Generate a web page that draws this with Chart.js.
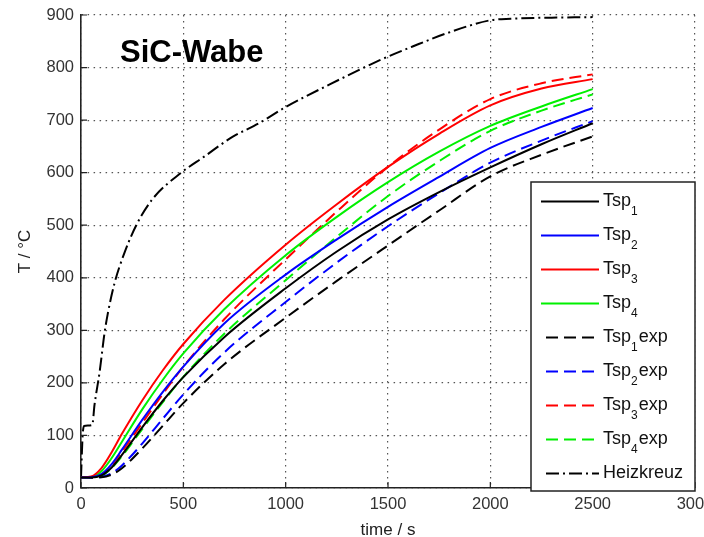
<!DOCTYPE html>
<html>
<head>
<meta charset="utf-8">
<script src="https://cdn.jsdelivr.net/npm/chart.js@4"></script>
<style>
  html, body { margin: 0; padding: 0; background: #fff; }
  #wrap { width: 704px; height: 537px; position: relative; }
</style>
</head>
<body>
<div id="wrap"><canvas id="chart"></canvas></div>
<script>
// time points of the simulated / measured curves (s)
const timeSteps = [0, 50, 100, 150, 200, 300, 400, 500, 700, 1000, 1250, 1500, 1750, 2000, 2250, 2500];

// simulation
const tsp1 = [20, 20, 24, 39, 63, 116, 166, 211, 287, 380, 450, 511, 563, 610, 654, 694];
const tsp2 = [20, 20.5, 26.5, 45.5, 73, 130, 183, 231, 313, 406, 473, 535, 592, 647, 687, 723];
const tsp3 = [20, 22, 38, 68, 103, 167, 224, 274, 358, 463, 540, 611, 674, 728, 760, 778];
const tsp4 = [20, 21, 32, 57, 88, 150, 206, 256, 340, 443, 516, 582, 640, 689, 726, 759];

// experiment
const tsp1exp = [20, 20, 20.5, 25.5, 37.5, 75.5, 118.5, 161.5, 235.5, 324, 394, 461.5, 528, 593, 634, 669];
const tsp2exp = [20, 20, 21, 28, 43, 85, 132, 178, 258, 354, 429, 498, 561, 619, 661, 698];
const tsp3exp = [20, 20, 26, 44, 69, 124, 179, 231, 321, 435, 526, 611, 682, 740, 770, 787];
const tsp4exp = [20, 20, 23, 38, 60.5, 112.5, 163.5, 211.5, 293.5, 395.5, 478, 555.5, 622, 679.5, 718, 749];

// heating cross
const heizTime = [0, 8, 15, 55, 66, 91, 115, 130, 164, 210, 270, 350, 490, 600, 740, 870, 1000, 1200, 1460, 1620, 1785, 2000, 2100, 2300, 2500];
const heizTemp = [20, 100, 118, 120, 158, 221, 295, 330, 390, 445, 500, 550, 600, 630, 668, 694, 725, 765, 814, 840, 865, 890, 893, 895, 896];

const seriesNames = ['Tsp1', 'Tsp2', 'Tsp3', 'Tsp4', 'Tsp1exp', 'Tsp2exp', 'Tsp3exp', 'Tsp4exp', 'Heizkreuz'];
const xTicks = [0, 500, 1000, 1500, 2000, 2500, 3000];
const yTicks = [0, 100, 200, 300, 400, 500, 600, 700, 800, 900];

const toPoints = (xs, ys) => xs.map((x, i) => ({ x: x, y: ys[i] }));

const dashed = [12, 6];
const dashDot = [13, 4, 2, 4];
const green = '#00f000';

function makeSet(label, xs, ys, color, dash) {
    return {
        label: label,
        data: toPoints(xs, ys),
        borderColor: color,
        borderWidth: 2,
        borderDash: dash,
        pointRadius: 0,
        cubicInterpolationMode: 'monotone',
        fill: false
    };
}

const datasets = [
    makeSet(seriesNames[0], timeSteps, tsp1, '#000000', []),
    makeSet(seriesNames[1], timeSteps, tsp2, '#0000ff', []),
    makeSet(seriesNames[2], timeSteps, tsp3, '#ff0000', []),
    makeSet(seriesNames[3], timeSteps, tsp4, green, []),
    makeSet(seriesNames[4], timeSteps, tsp1exp, '#000000', dashed),
    makeSet(seriesNames[5], timeSteps, tsp2exp, '#0000ff', dashed),
    makeSet(seriesNames[6], timeSteps, tsp3exp, '#ff0000', dashed),
    makeSet(seriesNames[7], timeSteps, tsp4exp, green, dashed),
    makeSet(seriesNames[8], heizTime, heizTemp, '#000000', dashDot)
];

// small tick marks pointing into the plot, like matlab
const innerTicks = {
    id: 'innerTicks',
    afterDraw(chart) {
        const ctx = chart.ctx;
        const x = chart.scales.x, y = chart.scales.y;
        ctx.save();
        ctx.strokeStyle = '#222';
        ctx.lineWidth = 1.2;
        ctx.beginPath();
        xTicks.forEach(v => {
            const px = x.getPixelForValue(v);
            ctx.moveTo(px, y.bottom);
            ctx.lineTo(px, y.bottom - 6);
        });
        yTicks.forEach(v => {
            const py = y.getPixelForValue(v);
            ctx.moveTo(x.left, py);
            ctx.lineTo(x.left + 6, py);
        });
        ctx.stroke();
        ctx.restore();
    }
};

// figure title inside the axes
const figTitle = {
    id: 'figTitle',
    afterDraw(chart) {
        const ctx = chart.ctx;
        ctx.save();
        ctx.font = 'bold 31px "Liberation Sans", Arial, sans-serif';
        ctx.fillStyle = '#000';
        ctx.textBaseline = 'alphabetic';
        ctx.fillText('SiC-Wabe', 120, 62);
        ctx.restore();
    }
};

// legend box in the lower right with subscripts
const boxLegend = {
    id: 'boxLegend',
    afterDraw(chart) {
        const ctx = chart.ctx;
        const left = 531, top = 182, right = 695, bottom = 491;
        ctx.save();
        ctx.fillStyle = '#fff';
        ctx.fillRect(left, top, right - left, bottom - top);
        ctx.strokeStyle = '#222';
        ctx.lineWidth = 1.5;
        ctx.strokeRect(left, top, right - left, bottom - top);

        chart.data.datasets.forEach((ds, i) => {
            const rowY = 201.5 + i * 34;
            const dash = ds.borderDash || [];
            ctx.setLineDash(dash);
            ctx.strokeStyle = ds.borderColor;
            ctx.lineWidth = 2;
            ctx.beginPath();
            ctx.moveTo(dash.length ? 546 : 541, rowY);
            ctx.lineTo(599, rowY);
            ctx.stroke();
            ctx.setLineDash([]);

            ctx.fillStyle = '#111';
            ctx.textBaseline = 'alphabetic';
            const m = /^(Tsp)(\d)(.*)$/.exec(ds.label);
            let tx = 603;
            const base = rowY + 4.5;
            if (m) {
                ctx.font = '18px "Liberation Sans", Arial, sans-serif';
                ctx.fillText(m[1], tx, base);
                tx += ctx.measureText(m[1]).width;
                ctx.font = '12px "Liberation Sans", Arial, sans-serif';
                ctx.fillText(m[2], tx, base + 9);
                tx += ctx.measureText(m[2]).width + 1;
                if (m[3]) {
                    ctx.font = '18px "Liberation Sans", Arial, sans-serif';
                    ctx.fillText(m[3], tx, base);
                }
            } else {
                ctx.font = '18px "Liberation Sans", Arial, sans-serif';
                ctx.fillText(ds.label, tx, base);
            }
        });
        ctx.restore();
    }
};

const tickFont = { family: '"Liberation Sans", Arial, sans-serif', size: 16.5 };
const titleFont = { family: '"Liberation Sans", Arial, sans-serif', size: 17 };

new Chart(document.getElementById('chart'), {
    type: 'line',
    data: { datasets: datasets },
    options: {
        responsive: true,
        maintainAspectRatio: false,
        animation: false,
        layout: { padding: { top: 15, right: 9, bottom: 0, left: 0 } },
        plugins: {
            legend: { display: false },
            tooltip: { enabled: false }
        },
        scales: {
            x: {
                type: 'linear',
                min: 0,
                max: 3000,
                afterBuildTicks(s) { s.ticks = xTicks.map(v => ({ value: v })); },
                afterFit(s) { s.height = 49; s.paddingLeft = 0; s.paddingRight = 0; },
                ticks: { color: '#333', font: tickFont, padding: 7, maxRotation: 0, callback: v => String(v) },
                grid: { color: '#555', lineWidth: 1.2, drawTicks: false },
                border: { color: '#222', width: 1.6, dash: [1.5, 4.5] },
                title: {
                    display: true,
                    text: 'time / s',
                    color: '#222',
                    font: Object.assign({ lineHeight: 0.8 }, titleFont),
                    padding: { top: 0, bottom: 0 }
                }
            },
            y: {
                type: 'linear',
                min: 0,
                max: 900,
                afterBuildTicks(s) { s.ticks = yTicks.map(v => ({ value: v })); },
                afterFit(s) { s.width = 81; s.paddingTop = 0; s.paddingBottom = 0; },
                ticks: { color: '#333', font: tickFont, padding: 7, callback: v => String(v) },
                grid: { color: '#555', lineWidth: 1.2, drawTicks: false },
                border: { color: '#222', width: 1.6, dash: [1.5, 4.5] },
                title: {
                    display: true,
                    text: 'T / °C',
                    color: '#222',
                    font: titleFont,
                    padding: { top: 15, bottom: 0 }
                }
            }
        }
    },
    plugins: [innerTicks, figTitle, boxLegend]
});
</script>
</body>
</html>
